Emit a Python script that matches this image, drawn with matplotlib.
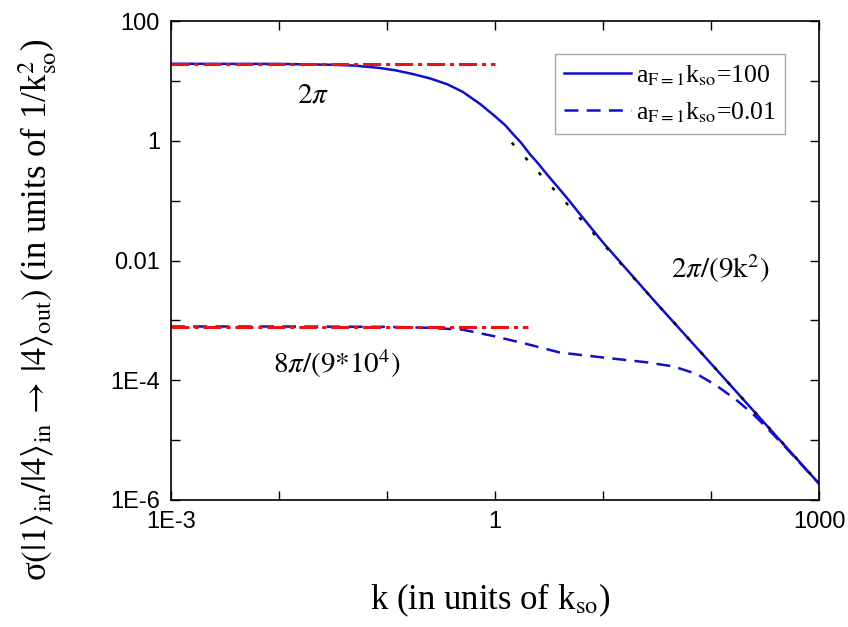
import numpy as np
import matplotlib
matplotlib.use('Agg')
import matplotlib.pyplot as plt
from matplotlib.ticker import FixedLocator, FixedFormatter, NullLocator

plt.rcParams['mathtext.fontset'] = 'stix'
plt.rcParams['lines.scale_dashes'] = False

# curve a_F=1 k_so = 100 (solid)
k_solid = [1e-3, 0.01, 0.03, 0.05, 0.086, 0.12, 0.174, 0.25, 0.36, 0.5, 0.73,
           1.03, 1.25, 1.47, 1.75, 2.1, 2.5, 3.0, 4.6, 6.0, 10.0, 30.0, 100.0,
           300.0, 1000.0]
s_solid = [19.3, 19.2, 18.6, 18.0, 16.4, 15.0, 13.0, 11.0, 8.8, 6.6, 4.1,
           2.45, 1.8, 1.29, 0.92, 0.60, 0.42, 0.28, 0.113, 0.062, 0.020, 2.1e-3,
           1.9e-4, 2.1e-5, 1.88e-6]

# curve a_F=1 k_so = 0.01 (dashed)
k_dash = [1e-3, 0.01, 0.1, 0.25, 0.5, 1.0, 2.0, 4.0, 10.0, 25.0, 45.0, 74.0,
          113.0, 174.0, 246.0, 330.0, 500.0, 1000.0]
s_dash = [7.9e-4, 7.9e-4, 7.8e-4, 7.5e-4, 7.0e-4, 5.4e-4, 4.0e-4, 2.9e-4, 2.4e-4,
          2.0e-4, 1.7e-4, 1.27e-4, 8.1e-5, 4.6e-5, 2.7e-5, 1.6e-5, 7.3e-6, 1.88e-6]

# asymptotes
k_high = [1.43, 1000.0]
s_high = [0.93, 1.9e-6]
k_low1 = [1e-3, 1.0]
s_low1 = [19.3, 19.3]
k_low2 = [1e-3, 2.0]
s_low2 = [7.9e-4, 7.9e-4]

xticks = [1e-3, 1e-2, 1e-1, 1, 10, 100, 1000]
xlabels = ['1E-3', '', '', '1', '', '', '1000']
yticks = [1e-6, 1e-5, 1e-4, 1e-3, 1e-2, 1e-1, 1, 10, 100]
ylabels = ['1E-6', '', '1E-4', '', '0.01', '', '1', '', '100']

blue = '#1010c8'
red = '#e8141a'
serif = 'Liberation Serif'

fig = plt.figure(figsize=(8.48, 6.27), dpi=100)
ax = fig.add_axes([171/848, 127/627, 648/848, 479/627])

ax.plot(k_solid, s_solid, color=blue, lw=1.8, label=r'a$_{\rm F=1}$k$_{\rm so}$=100')
ax.plot(k_dash, s_dash, color=blue, lw=1.8, dashes=(10, 6),
        label=r'a$_{\rm F=1}$k$_{\rm so}$=0.01')
ax.plot(k_high, s_high, color='black', lw=1.8, dashes=(2.5, 12))
ax.plot(k_low1, s_low1, color=red, lw=2.2, dashes=(13, 3.5, 3, 3.5))
ax.plot(k_low2, s_low2, color=red, lw=2.2, dashes=(13, 3.5, 3, 3.5))

ax.set_xscale('log')
ax.set_yscale('log')
ax.set_xlim(1e-3, 1000)
ax.set_ylim(1e-6, 100)
ax.xaxis.set_major_locator(FixedLocator(xticks))
ax.xaxis.set_major_formatter(FixedFormatter(xlabels))
ax.yaxis.set_major_locator(FixedLocator(yticks))
ax.yaxis.set_major_formatter(FixedFormatter(ylabels))
ax.xaxis.set_minor_locator(NullLocator())
ax.yaxis.set_minor_locator(NullLocator())
ax.tick_params(which='major', direction='in', length=6.5, width=1.0,
               top=True, right=True, labelsize=17, pad=8)
for lab in ax.get_xticklabels() + ax.get_yticklabels():
    lab.set_family('Liberation Sans')
for sp in ax.spines.values():
    sp.set_linewidth(1.2)

ax.text(0.0207, 5.6, r'$2\pi$', fontsize=21,
        family=serif, ha='center', va='center')
ax.text(0.0344, 1.9e-4, r'$8\pi/(9{*}10^{4})$', fontsize=21,
        family=serif, ha='center', va='center')
ax.text(121, 7.3e-3, r'$2\pi/(9\mathrm{k}^{2})$', fontsize=21,
        family=serif, ha='center', va='center')

leg = ax.legend(loc='upper right', bbox_to_anchor=(0.9475, 0.931),
                borderaxespad=0, fancybox=False, handlelength=2.6,
                prop={'family': serif, 'size': 18.5}, labelspacing=0.5,
                handletextpad=0.2, borderpad=0.35)
leg.get_frame().set_edgecolor('#909090')
leg.get_frame().set_linewidth(1.0)

fig.text(490/848, 1 - 600/627, r'k (in units of k$_{\rm so}$)', fontsize=25,
         family=serif, ha='center', va='center')
fig.text(38/848, 1 - 310/627,
         r'σ$(|1\rangle_{\rm in}/|4\rangle_{\rm in}\,\rightarrow\,|4\rangle_{\rm out})$ (in units of 1/k$^{2}_{\rm so}$)',
         fontsize=25, family=serif, ha='center', va='center', rotation=90)

fig.savefig('out.png', dpi=100)
